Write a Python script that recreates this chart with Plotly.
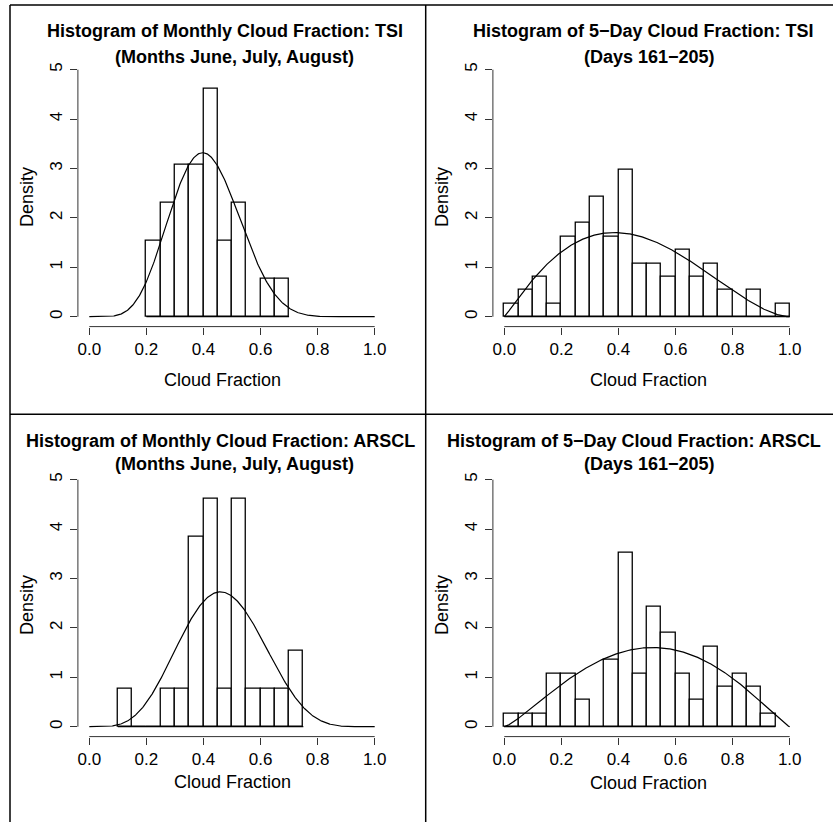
import math
import plotly.graph_objects as go

# ---------------- data ----------------
bin_width = 0.05
# bin left edges and counts
tsi_month_edges = [0.20, 0.25, 0.30, 0.35, 0.40, 0.45, 0.50, 0.55, 0.60, 0.65]
tsi_month_counts = [2, 3, 4, 4, 6, 2, 3, 0, 1, 1]

tsi_5day_edges = [0.00, 0.05, 0.10, 0.15, 0.20, 0.25, 0.30, 0.35, 0.40, 0.45,
                  0.50, 0.55, 0.60, 0.65, 0.70, 0.75, 0.80, 0.85, 0.90, 0.95]
tsi_5day_counts = [1, 2, 3, 1, 6, 7, 9, 6, 11, 4, 4, 3, 5, 3, 4, 2, 0, 2, 0, 1]

arscl_month_edges = [0.10, 0.15, 0.20, 0.25, 0.30, 0.35, 0.40, 0.45, 0.50, 0.55,
                     0.60, 0.65, 0.70]
arscl_month_counts = [1, 0, 0, 1, 1, 5, 6, 1, 6, 1, 1, 1, 2]

arscl_5day_edges = [0.00, 0.05, 0.10, 0.15, 0.20, 0.25, 0.30, 0.35, 0.40, 0.45,
                    0.50, 0.55, 0.60, 0.65, 0.70, 0.75, 0.80, 0.85, 0.90]
arscl_5day_counts = [1, 1, 1, 4, 4, 2, 0, 5, 13, 4, 9, 7, 4, 2, 6, 3, 4, 3, 1]

# fitted beta-distribution parameters (a, b) for the overlaid curves
tsi_month_beta = (7.0, 10.1)
tsi_5day_beta = (2.1, 2.75)
arscl_month_beta = (5.65, 6.47)
arscl_5day_beta = (2.3, 2.2)

titles = [
    ("Histogram of Monthly Cloud Fraction: TSI", "(Months June, July, August)"),
    ("Histogram of 5\u2212Day Cloud Fraction: TSI", "(Days 161\u2212205)"),
    ("Histogram of Monthly Cloud Fraction: ARSCL", "(Months June, July, August)"),
    ("Histogram of 5\u2212Day Cloud Fraction: ARSCL", "(Days 161\u2212205)"),
]
x_label = "Cloud Fraction"
y_label = "Density"
x_ticks = [0.0, 0.2, 0.4, 0.6, 0.8, 1.0]
y_ticks = [0, 1, 2, 3, 4, 5]

# ---------------- layout helpers ----------------
W, H = 833, 822
FONT = "Liberation Sans, Arial, Helvetica, sans-serif"


def fx(p):
    return p / W


def fy(p):
    return 1 - p / H


def beta_pdf(x, a, b):
    if x <= 0 or x >= 1:
        return 0.0
    lb = math.lgamma(a) + math.lgamma(b) - math.lgamma(a + b)
    return math.exp((a - 1) * math.log(x) + (b - 1) * math.log(1 - x) - lb)


panels = [
    dict(edges=tsi_month_edges, counts=tsi_month_counts, beta=tsi_month_beta,
         xd=(77.9, 386.1), yd=(326.6, 59.8),
         t1=(225, 31), t2=(234, 57), xl=(222, 380), yl=(27, 197)),
    dict(edges=tsi_5day_edges, counts=tsi_5day_counts, beta=tsi_5day_beta,
         xd=(492.9, 801.1), yd=(326.6, 59.8),
         t1=(643.5, 31), t2=(649, 57), xl=(648, 380), yl=(442, 197)),
    dict(edges=arscl_month_edges, counts=arscl_month_counts, beta=arscl_month_beta,
         xd=(77.9, 386.1), yd=(736.6, 469.8),
         t1=(220, 441), t2=(234, 464), xl=(232, 782), yl=(27, 605)),
    dict(edges=arscl_5day_edges, counts=arscl_5day_counts, beta=arscl_5day_beta,
         xd=(492.9, 801.1), yd=(736.6, 469.8),
         t1=(634, 441), t2=(649.5, 464), xl=(648, 783), yl=(442, 605)),
]

fig = go.Figure()
annotations = []
shapes = []
curve_x = [i / 400 for i in range(401)]

for i, p in enumerate(panels, start=1):
    xa = "x" if i == 1 else f"x{i}"
    ya = "y" if i == 1 else f"y{i}"
    n = sum(p["counts"])
    centers = [e + bin_width / 2 for e in p["edges"]]
    dens = [c / (n * bin_width) for c in p["counts"]]
    fig.add_trace(go.Bar(
        x=centers, y=dens, width=bin_width,
        marker=dict(color="white", line=dict(color="black", width=1.3)),
        xaxis=xa, yaxis=ya, showlegend=False, hoverinfo="x+y"))
    # baseline across the histogram breaks (R draws empty bins as flat boxes)
    fig.add_trace(go.Scatter(
        x=[p["edges"][0], p["edges"][-1] + bin_width], y=[0, 0], mode="lines",
        line=dict(color="black", width=1.3), xaxis=xa, yaxis=ya,
        showlegend=False, hoverinfo="skip"))
    a, b = p["beta"]
    fig.add_trace(go.Scatter(
        x=curve_x, y=[beta_pdf(x, a, b) for x in curve_x], mode="lines",
        line=dict(color="black", width=1.2), xaxis=xa, yaxis=ya,
        showlegend=False))

    axis_common = dict(showgrid=False, zeroline=False, showline=False,
                       ticks="outside", ticklen=7, tickwidth=1, tickcolor="#333",
                       tickfont=dict(family=FONT, size=17, color="black"))
    fig.layout[f"xaxis{'' if i == 1 else i}"] = dict(
        domain=[fx(p["xd"][0]), fx(p["xd"][1])], range=[-0.04, 1.04],
        anchor=ya, tickvals=x_ticks, tickformat=".1f", ticklabelstandoff=0,
        **axis_common)
    fig.layout[f"yaxis{'' if i == 1 else i}"] = dict(
        domain=[fy(p["yd"][0]), fy(p["yd"][1])], range=[-0.2, 5.2],
        anchor=xa, tickvals=y_ticks, tickangle=-90, ticklabelstandoff=1,
        **axis_common)

    # R-style axis lines spanning first to last tick only
    shapes.append(dict(type="line", xref=xa, yref=f"{ya} domain",
                       x0=x_ticks[0], x1=x_ticks[-1], y0=0, y1=0,
                       line=dict(color="#333", width=1)))
    shapes.append(dict(type="line", xref=f"{xa} domain", yref=ya,
                       x0=0, x1=0, y0=y_ticks[0], y1=y_ticks[-1],
                       line=dict(color="#333", width=1)))

    t1, t2 = titles[i - 1]
    annotations.append(dict(text=f"<b>{t1}</b>", x=fx(p["t1"][0]), y=fy(p["t1"][1]),
                            xref="paper", yref="paper", showarrow=False,
                            xanchor="center", yanchor="middle",
                            font=dict(family=FONT, size=18, color="black")))
    annotations.append(dict(text=f"<b>{t2}</b>", x=fx(p["t2"][0]), y=fy(p["t2"][1]),
                            xref="paper", yref="paper", showarrow=False,
                            xanchor="center", yanchor="middle",
                            font=dict(family=FONT, size=18, color="black")))
    annotations.append(dict(text=x_label, x=fx(p["xl"][0]), y=fy(p["xl"][1]),
                            xref="paper", yref="paper", showarrow=False,
                            xanchor="center", yanchor="middle",
                            font=dict(family=FONT, size=18, color="black")))
    annotations.append(dict(text=y_label, x=fx(p["yl"][0]), y=fy(p["yl"][1]),
                            xref="paper", yref="paper", showarrow=False,
                            textangle=-90, xanchor="center", yanchor="middle",
                            font=dict(family=FONT, size=18, color="black")))

# outer frame / divider lines
frame = [
    (10, 5, 833, 5),      # top
    (10, 5, 10, 822),     # left
    (425.7, 5, 425.7, 822),  # vertical divider
    (10, 414.3, 833, 414.3),  # horizontal divider
]
for x0, y0, x1, y1 in frame:
    shapes.append(dict(type="line", xref="paper", yref="paper",
                       x0=fx(x0), y0=fy(y0), x1=fx(x1), y1=fy(y1),
                       line=dict(color="black", width=1.5)))

fig.update_layout(
    width=W, height=H,
    margin=dict(l=0, r=0, t=0, b=0),
    paper_bgcolor="white", plot_bgcolor="white",
    bargap=0, showlegend=False,
    annotations=annotations, shapes=shapes,
    font=dict(family=FONT, color="black"),
)

fig.write_html(
    "out.html",
    config={"displayModeBar": False},
    post_script="document.body.style.margin='0';document.body.style.padding='0';",
)
